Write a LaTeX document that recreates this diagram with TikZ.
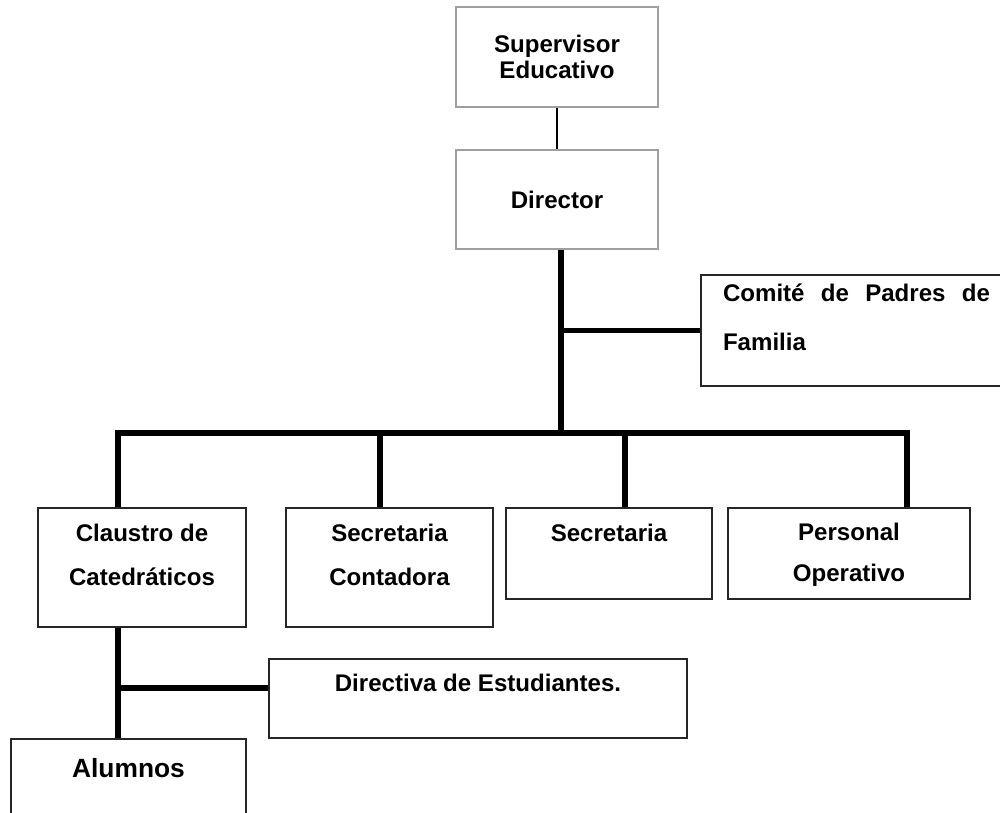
\documentclass[tikz,border=0pt]{standalone}
\usepackage{fontspec}
\setmainfont{Liberation Sans}
\usepackage{tikz}
\usetikzlibrary{positioning}
\tikzset{
    boxg/.style = {rectangle, draw=gray!75, line width=0.75pt, inner sep=0pt, align=center, font=\bfseries\fontsize{13.7}{15}\selectfont},
    boxn/.style = {rectangle, draw=black!85, line width=0.75pt, inner sep=0pt},
    txtn/.style = {align=center, inner sep=0pt, font=\bfseries\fontsize{13.7}{15}\selectfont},
    txtw/.style = {align=center, inner sep=0pt, font=\bfseries\fontsize{13.7}{24.9}\selectfont},
    edgen/.style = {-, line width=1pt, black},
    edgek/.style = {-, line width=3.2pt, black},
    every picture/.style={font issue=\bfseries},
    font issue/.style={execute at begin picture={#1\selectfont}}
}

\begin{document}
\begin{tikzpicture}[x=0.02cm, y=-0.02cm]
\path[use as bounding box] (0,0) rectangle (1000,813);
% upper part
\node[boxg, minimum width=4.04cm, minimum height=2.00cm] at (557,57) (sup) {Supervisor\\Educativo};
\node[boxg, minimum width=4.04cm, minimum height=1.98cm] at (557,199.5) (dir) {Director};
\node[boxn, minimum width=6.08cm, minimum height=2.22cm] at (853,330.5) (com) {};
\node[txtn, text width=5.34cm, align=left, font=\bfseries\fontsize{13.7}{27.9}\selectfont] at (856.5,317.5) (com-txt) {Comité\hfill de\hfill Padres\hfill de\\Familia};
%
\node[boxn, minimum width=4.16cm, minimum height=2.38cm] at (142,567.5) (claustro) {};
\node[txtw] at (142,555) (claustro-txt) {Claustro de\\Catedráticos};
\node[boxn, minimum width=4.14cm, minimum height=2.38cm] at (389.5,567.5) (contadora) {};
\node[txtw] at (389.5,555) (contadora-txt) {Secretaria\\Contadora};
\node[boxn, minimum width=4.12cm, minimum height=1.82cm] at (609,553.5) (secretaria) {};
\node[txtn] at (609,533) (secretaria-txt) {Secretaria};
\node[boxn, minimum width=4.84cm, minimum height=1.82cm] at (849,553.5) (personal) {};
\node[txtw, font=\bfseries\fontsize{13.7}{23.3}\selectfont] at (849,555) (personal-txt) {Personal\\Operativo};
% lower part
\node[boxn, minimum width=8.36cm, minimum height=1.58cm] at (478,698.5) (directiva) {};
\node[txtn] at (478,683) (directiva-txt) {Directiva de Estudiantes.};
\node[boxn, minimum width=4.70cm, minimum height=2.02cm] at (128.5,789.5) (alumnos) {};
\node[txtn, font=\bfseries\fontsize{15}{16}\selectfont] at (128.5,768) (alumnos-txt) {Alumnos};
%
\coordinate (trunk) at (561,433);
\coordinate (b1) at (118,433);
\coordinate (b2) at (380,433);
\coordinate (b3) at (625,433);
\coordinate (b4) at (907,433);
\coordinate (s1) at (118,688);
%
\draw[edgen] (sup) -- (dir);
\draw[edgek] (dir.south -| trunk) -- (trunk);
\draw[edgek] (com.west -| trunk) -- (com.west);
\draw[edgek] (claustro.north -| b1) -- (b1) -- (b4) -- (personal.north -| b4);
\draw[edgek] (b2) -- (b2 |- contadora.north);
\draw[edgek] (b3) -- (b3 |- secretaria.north);
\draw[edgek] (claustro.south -| s1) -- (alumnos.north -| s1);
\draw[edgek] (s1) -- (s1 -| directiva.west);
\end{tikzpicture}
\end{document}
